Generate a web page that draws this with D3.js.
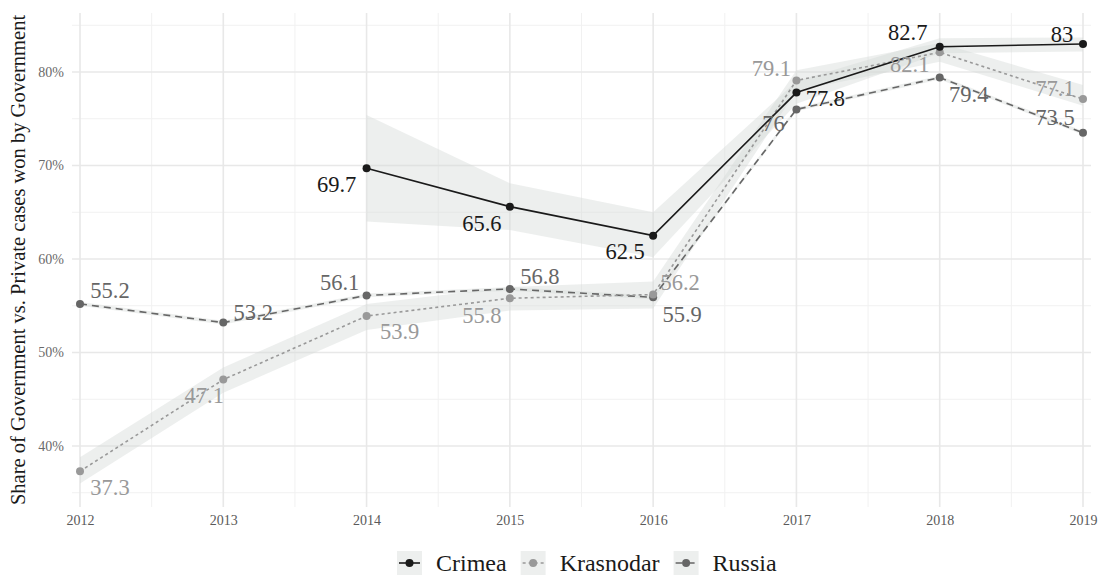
<!DOCTYPE html>
<html>
<head>
<meta charset="utf-8">
<script src="https://cdn.jsdelivr.net/npm/d3@7"></script>
<style>
  html, body { margin: 0; padding: 0; background: #fff; }
  svg { display: block; font-family: "Liberation Serif", "DejaVu Serif", serif; }
</style>
</head>
<body>
<svg id="chart" width="1101" height="577"></svg>
<script>
// Years on the x axis
const years = [2012, 2013, 2014, 2015, 2016, 2017, 2018, 2019];

// Share (%) of Government vs. Private cases won by Government
const crimeaYears = [2014, 2015, 2016, 2017, 2018, 2019];
const crimeaValues = [69.7, 65.6, 62.5, 77.8, 82.7, 83];
const crimeaLower = [64.0, 63.1, 60.2, 76.6, 82.0, 82.2];
const crimeaUpper = [75.4, 68.1, 65.0, 79.0, 83.6, 83.7];

const krasnodarValues = [37.3, 47.1, 53.9, 55.8, 56.2, 79.1, 82.1, 77.1];
const krasnodarLower = [36.0, 45.7, 52.4, 54.5, 54.7, 78.0, 81.1, 76.4];
const krasnodarUpper = [38.8, 48.4, 55.2, 57.0, 57.6, 80.2, 83.1, 78.6];

const russiaValues = [55.2, 53.2, 56.1, 56.8, 55.9, 76, 79.4, 73.5];
const russiaLower = [55.0, 53.0, 55.9, 56.6, 55.7, 75.8, 79.2, 73.3];
const russiaUpper = [55.4, 53.4, 56.3, 57.0, 56.1, 76.2, 79.6, 73.7];

// Y axis ticks (percent)
const yTicks = [40, 50, 60, 70, 80];
const yMinor = [35, 45, 55, 65, 75, 85];

// Build series records from the arrays above
const series = [
  { name: "Crimea", x: crimeaYears, v: crimeaValues, lo: crimeaLower, hi: crimeaUpper,
    color: "#1a1a1a", dash: null },
  { name: "Krasnodar", x: years, v: krasnodarValues, lo: krasnodarLower, hi: krasnodarUpper,
    color: "#999999", dash: "3,3" },
  { name: "Russia", x: years, v: russiaValues, lo: russiaLower, hi: russiaUpper,
    color: "#666666", dash: "7,5" }
];

// Label offsets relative to each point (dx, dy of the text centre)
const labelOffsets = {
  Crimea:    [[-30, 16], [-28, 17], [-28, 16], [29, 6], [-32, -14], [-21, -9]],
  Krasnodar: [[30, 16], [-19, 16], [33, 15], [-28, 17], [27, -12], [-25, -12], [-30, 12], [-28, -11]],
  Russia:    [[30, -13], [30, -10], [-27, -13], [30, -12], [29, 17], [-23, 14], [29, 17], [-28, -15]]
};

const svg = d3.select("#chart");
const panel = { left: 72, right: 1091, top: 13, bottom: 507 };

const x = d3.scaleLinear().domain([2012, 2019]).range([80, 1083]);
const y = d3.scaleLinear().domain([40, 80]).range([446, 72]);

// Grid lines
const grid = svg.append("g");
const xMinor = d3.range(2012.5, 2019, 1);
grid.selectAll(".ymin").data(yMinor).join("line")
  .attr("x1", panel.left).attr("x2", panel.right)
  .attr("y1", d => y(d)).attr("y2", d => y(d))
  .attr("stroke", "#f1f1f1").attr("stroke-width", 1);
grid.selectAll(".xmin").data(xMinor).join("line")
  .attr("x1", d => x(d)).attr("x2", d => x(d))
  .attr("y1", panel.top).attr("y2", panel.bottom)
  .attr("stroke", "#f1f1f1").attr("stroke-width", 1);
grid.selectAll(".ymaj").data(yTicks).join("line")
  .attr("x1", panel.left).attr("x2", panel.right)
  .attr("y1", d => y(d)).attr("y2", d => y(d))
  .attr("stroke", "#e8e8e8").attr("stroke-width", 1.6);
grid.selectAll(".xmaj").data(years).join("line")
  .attr("x1", d => x(d)).attr("x2", d => x(d))
  .attr("y1", panel.top).attr("y2", panel.bottom)
  .attr("stroke", "#e8e8e8").attr("stroke-width", 1.6);

// Axes (text only, as in a minimal theme)
const xAxis = svg.append("g").attr("transform", `translate(0,${panel.bottom})`)
  .call(d3.axisBottom(x).tickValues(years).tickFormat(d3.format("d")).tickSize(0).tickPadding(8));
xAxis.select(".domain").remove();
xAxis.selectAll("text").attr("font-size", 14).attr("fill", "#5a5a5a")
  .attr("font-family", "Liberation Serif, serif");

const yAxis = svg.append("g").attr("transform", `translate(${panel.left},0)`)
  .call(d3.axisLeft(y).tickValues(yTicks).tickFormat(d => d + "%").tickSize(0).tickPadding(8));
yAxis.select(".domain").remove();
yAxis.selectAll("text").attr("font-size", 14).attr("fill", "#6a6a6a")
  .attr("font-family", "Liberation Serif, serif");

svg.append("text")
  .attr("transform", `translate(25,${(panel.top + panel.bottom) / 2}) rotate(-90)`)
  .attr("text-anchor", "middle")
  .attr("font-size", 20.5).attr("fill", "#1a1a1a")
  .text("Share of Government vs. Private cases won by Government");

// Confidence ribbons
const area = d3.area()
  .x(d => x(d.x)).y0(d => y(d.lo)).y1(d => y(d.hi));
const recs = s => s.x.map((yr, i) => ({ x: yr, v: s.v[i], lo: s.lo[i], hi: s.hi[i] }));

svg.append("g").selectAll("path").data(series).join("path")
  .attr("d", s => area(recs(s)))
  .attr("fill", "#d4dad7").attr("fill-opacity", 0.42);

// Lines
const line = d3.line().x(d => x(d.x)).y(d => y(d.v));
const linesG = svg.append("g");
series.slice().reverse().forEach(s => {
  linesG.append("path").attr("d", line(recs(s)))
    .attr("fill", "none").attr("stroke", s.color).attr("stroke-width", 1.6)
    .attr("stroke-dasharray", s.dash);
});

// Points
series.slice().reverse().forEach(s => {
  svg.append("g").selectAll("circle").data(recs(s)).join("circle")
    .attr("cx", d => x(d.x)).attr("cy", d => y(d.v)).attr("r", 4)
    .attr("fill", s.color);
});

// Value labels
series.forEach(s => {
  const offs = labelOffsets[s.name];
  svg.append("g").selectAll("text").data(recs(s)).join("text")
    .attr("x", (d, i) => x(d.x) + offs[i][0])
    .attr("y", (d, i) => y(d.v) + offs[i][1])
    .attr("text-anchor", "middle").attr("dominant-baseline", "central")
    .attr("font-size", 22.5).attr("fill", s.color)
    .text(d => d3.format("~g")(d.v));
});

// Legend
const legend = svg.append("g").attr("transform", "translate(397,551)");
let lx = 0;
series.forEach(s => {
  const g = legend.append("g").attr("transform", `translate(${lx},0)`);
  g.append("rect").attr("width", 25).attr("height", 24).attr("fill", "#d4dad7").attr("fill-opacity", 0.42);
  g.append("line").attr("x1", 2).attr("x2", 23).attr("y1", 12).attr("y2", 12)
    .attr("stroke", s.color).attr("stroke-width", 1.6).attr("stroke-dasharray", s.dash);
  g.append("circle").attr("cx", 12.5).attr("cy", 12).attr("r", 4).attr("fill", s.color);
  const t = g.append("text").attr("x", 39).attr("y", 12).attr("dominant-baseline", "central")
    .attr("font-size", 24).attr("fill", "#1a1a1a").text(s.name);
  lx += 39 + t.node().getComputedTextLength() + 14;
});
</script>
</body>
</html>
